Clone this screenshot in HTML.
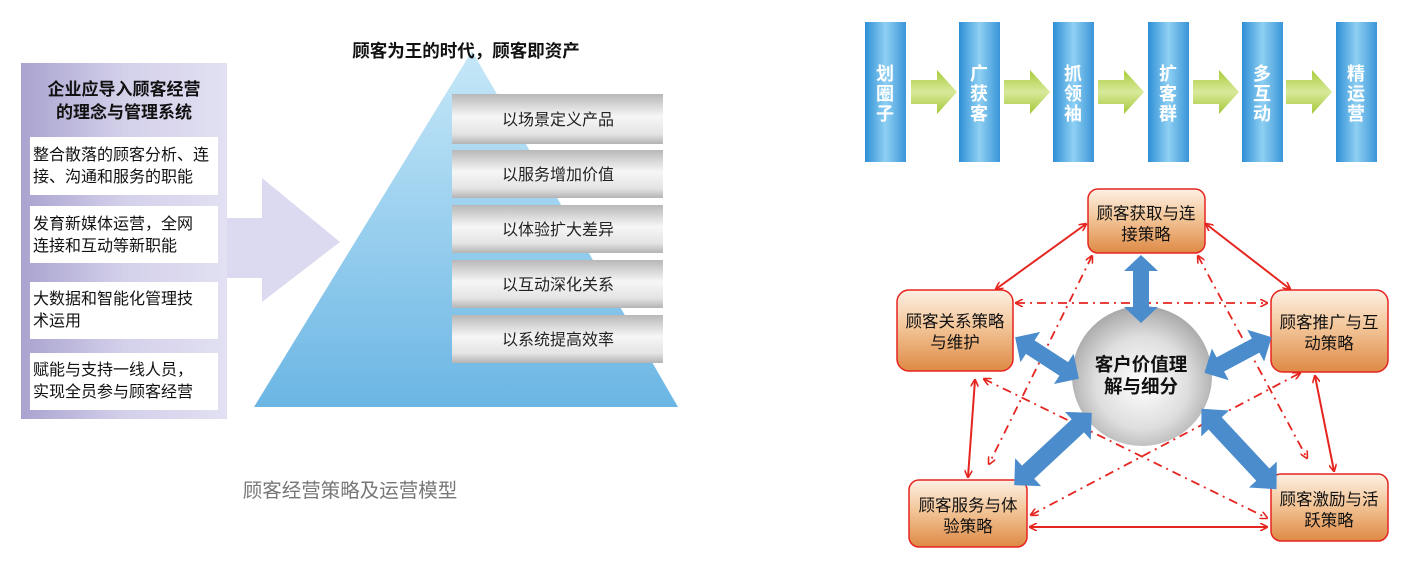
<!DOCTYPE html>
<html><head><meta charset="utf-8"><style>
html,body{margin:0;padding:0;background:#fff;}
svg{display:block;}
text{font-family:"Liberation Sans","Noto Sans CJK SC",sans-serif;}
</style></head><body>
<svg width="1426" height="572" viewBox="0 0 1426 572" xmlns="http://www.w3.org/2000/svg">
<defs>
<linearGradient id="pur" x1="0" x2="1" y1="0" y2="0"><stop offset="0" stop-color="#a9a3cf"/><stop offset="0.5" stop-color="#d3d0ea"/><stop offset="1" stop-color="#e2e0f2"/></linearGradient>
<linearGradient id="pyr" x1="0" x2="0" y1="0" y2="1"><stop offset="0" stop-color="#c6e8f8"/><stop offset="1" stop-color="#6bb6e4"/></linearGradient>
<linearGradient id="bar" x1="0" x2="0" y1="0" y2="1"><stop offset="0" stop-color="#b8b8b8"/><stop offset="0.45" stop-color="#f6f6f6"/><stop offset="0.8" stop-color="#e4e4e4"/><stop offset="1" stop-color="#b4b4b4"/></linearGradient>
<linearGradient id="col" x1="0" x2="1" y1="0" y2="0"><stop offset="0" stop-color="#2e8fd6"/><stop offset="0.5" stop-color="#8fd0f3"/><stop offset="1" stop-color="#3a95d8"/></linearGradient>
<linearGradient id="grn" x1="0" x2="0" y1="0" y2="1"><stop offset="0" stop-color="#a8cc3a"/><stop offset="0.5" stop-color="#d8e99a"/><stop offset="1" stop-color="#a4c838"/></linearGradient>
<linearGradient id="org" x1="0" x2="0" y1="0" y2="1"><stop offset="0" stop-color="#fdf0e4"/><stop offset="0.45" stop-color="#f3c699"/><stop offset="1" stop-color="#de8a45"/></linearGradient>
<radialGradient id="ball" cx="0.5" cy="0.55" r="0.55"><stop offset="0" stop-color="#ffffff"/><stop offset="0.6" stop-color="#dedede"/><stop offset="1" stop-color="#a8a8a8"/></radialGradient>
<marker id="ah" markerWidth="8" markerHeight="8" refX="7" refY="4" orient="auto-start-reverse" markerUnits="userSpaceOnUse"><path d="M0,0 L8,4 L0,8" fill="none" stroke="#e52520" stroke-width="1.6"/></marker>
</defs>

<!-- Left panel -->
<polygon points="226,218 262,218 262,178 340,242 262,302 262,278 226,278" fill="#dcdaf0"/>
<rect x="21" y="63" width="206" height="356" fill="url(#pur)"/>
<text x="124" y="95" font-size="17" font-weight="bold" text-anchor="middle" fill="#111">企业应导入顾客经营</text>
<text x="124" y="118" font-size="17" font-weight="bold" text-anchor="middle" fill="#111">的理念与管理系统</text>
<g font-size="16" fill="#111">
<rect x="30" y="137" width="188" height="58" fill="#fff"/>
<text x="33" y="160">整合散落的顾客分析、连</text><text x="33" y="182">接、沟通和服务的职能</text>
<rect x="30" y="206" width="188" height="57" fill="#fff"/>
<text x="33" y="229">发育新媒体运营，全网</text><text x="33" y="251">连接和互动等新职能</text>
<rect x="30" y="282" width="188" height="57" fill="#fff"/>
<text x="33" y="304">大数据和智能化管理技</text><text x="33" y="326">术运用</text>
<rect x="30" y="353" width="188" height="57" fill="#fff"/>
<text x="33" y="375">赋能与支持一线人员，</text><text x="33" y="397">实现全员参与顾客经营</text>
</g>

<!-- Pyramid -->
<polygon points="472,51 678,407 254,407" fill="url(#pyr)"/>
<text x="466" y="57" font-size="17.5" font-weight="bold" text-anchor="middle" fill="#111">顾客为王的时代，顾客即资产</text>
<g font-size="16" fill="#222" text-anchor="middle">
<rect x="452" y="94" width="211" height="50" fill="url(#bar)"/><text x="558" y="125">以场景定义产品</text>
<rect x="452" y="150" width="211" height="48" fill="url(#bar)"/><text x="558" y="180">以服务增加价值</text>
<rect x="452" y="205" width="211" height="48" fill="url(#bar)"/><text x="558" y="235">以体验扩大差异</text>
<rect x="452" y="260" width="211" height="48" fill="url(#bar)"/><text x="558" y="290">以互动深化关系</text>
<rect x="452" y="315" width="211" height="48" fill="url(#bar)"/><text x="558" y="345">以系统提高效率</text>
</g>
<text x="350" y="497" font-size="19.5" text-anchor="middle" fill="#777">顾客经营策略及运营模型</text>

<!-- Top flow -->
<g fill="url(#grn)">
<polygon points="911,80 937,80 937,70 957,92 937,114 937,104 911,104"/>
<polygon points="1004,80 1030,80 1030,70 1050,92 1030,114 1030,104 1004,104"/>
<polygon points="1098,80 1124,80 1124,70 1144,92 1124,114 1124,104 1098,104"/>
<polygon points="1193,80 1219,80 1219,70 1239,92 1219,114 1219,104 1193,104"/>
<polygon points="1286,80 1312,80 1312,70 1332,92 1312,114 1312,104 1286,104"/>
</g>
<g fill="url(#col)">
<rect x="865" y="22" width="41" height="140"/>
<rect x="959" y="22" width="41" height="140"/>
<rect x="1053" y="22" width="41" height="140"/>
<rect x="1148" y="22" width="41" height="140"/>
<rect x="1242" y="22" width="41" height="140"/>
<rect x="1336" y="22" width="41" height="140"/>
</g>
<g font-size="18" fill="#fff" text-anchor="middle" font-weight="bold">
<text x="885" y="80">划</text><text x="885" y="100">圈</text><text x="885" y="120">子</text>
<text x="979" y="80">广</text><text x="979" y="100">获</text><text x="979" y="120">客</text>
<text x="1073" y="80">抓</text><text x="1073" y="100">领</text><text x="1073" y="120">袖</text>
<text x="1168" y="80">扩</text><text x="1168" y="100">客</text><text x="1168" y="120">群</text>
<text x="1262" y="80">多</text><text x="1262" y="100">互</text><text x="1262" y="120">动</text>
<text x="1356" y="80">精</text><text x="1356" y="100">运</text><text x="1356" y="120">营</text>
</g>

<!-- Red connectors -->
<g stroke="#e52520" stroke-width="2" fill="none" marker-start="url(#ah)" marker-end="url(#ah)">
<line x1="1086" y1="224" x2="996" y2="289"/>
<line x1="1206" y1="224" x2="1290" y2="289"/>
<line x1="1315" y1="376" x2="1334" y2="471"/>
<line x1="975" y1="380" x2="968" y2="477"/>
<line x1="1030" y1="527" x2="1267" y2="527"/>
</g>
<g stroke="#e52520" stroke-width="1.8" fill="none" stroke-dasharray="9,5,2,5" marker-start="url(#ah)" marker-end="url(#ah)">
<line x1="1016" y1="303" x2="1267" y2="303"/>
<line x1="1092" y1="256" x2="989" y2="464"/>
<line x1="1198" y1="256" x2="1307" y2="458"/>
<line x1="984" y1="379" x2="1267" y2="518"/>
<line x1="1031" y1="515" x2="1300" y2="373"/>
</g>

<!-- Boxes -->
<g stroke="#e52520" stroke-width="1.5" fill="url(#org)">
<rect x="1088" y="189" width="117" height="64" rx="10"/>
<rect x="897" y="290" width="116" height="81" rx="12"/>
<rect x="1271" y="290" width="117" height="82" rx="12"/>
<rect x="909" y="480" width="118" height="67" rx="10"/>
<rect x="1271" y="474" width="117" height="67" rx="10"/>
</g>
<g font-size="16.5" fill="#111" text-anchor="middle">
<text x="1146" y="219">顾客获取与连</text><text x="1146" y="240">接策略</text>
<text x="955" y="327">顾客关系策略</text><text x="955" y="348">与维护</text>
<text x="1329" y="328">顾客推广与互</text><text x="1329" y="349">动策略</text>
<text x="968" y="511">顾客服务与体</text><text x="968" y="532">验策略</text>
<text x="1329" y="505">顾客激励与活</text><text x="1329" y="526">跃策略</text>
</g>

<!-- Circle -->
<circle cx="1142" cy="376" r="70" fill="url(#ball)"/>
<text x="1141" y="371" font-size="18.5" font-weight="bold" text-anchor="middle" fill="#111">客户价值理</text>
<text x="1141" y="393" font-size="18.5" font-weight="bold" text-anchor="middle" fill="#111">解与细分</text>

<!-- Blue double arrows -->
<g fill="#4a8ccc">
<g transform="translate(1141,289) rotate(90)"><polygon points="-34,0 -18,-17 -18,-8 18,-8 18,-17 34,0 18,17 18,8 -18,8 -18,17"/></g>
<g transform="translate(1047,358) rotate(33)"><polygon points="-38,0 -20,-18 -20,-8 20,-8 20,-18 38,0 20,18 20,8 -20,8 -20,18"/></g>
<g transform="translate(1238,355) rotate(-28)"><polygon points="-38,0 -20,-18 -20,-8 20,-8 20,-18 38,0 20,18 20,8 -20,8 -20,18"/></g>
<g transform="translate(1053,449) rotate(-43)"><polygon points="-53,0 -34,-19 -34,-9 34,-9 34,-19 53,0 34,19 34,9 -34,9 -34,19"/></g>
<g transform="translate(1239,449) rotate(47)"><polygon points="-55,0 -35,-19 -35,-9 35,-9 35,-19 55,0 35,19 35,9 -35,9 -35,19"/></g>
</g>
</svg>
</body></html>
